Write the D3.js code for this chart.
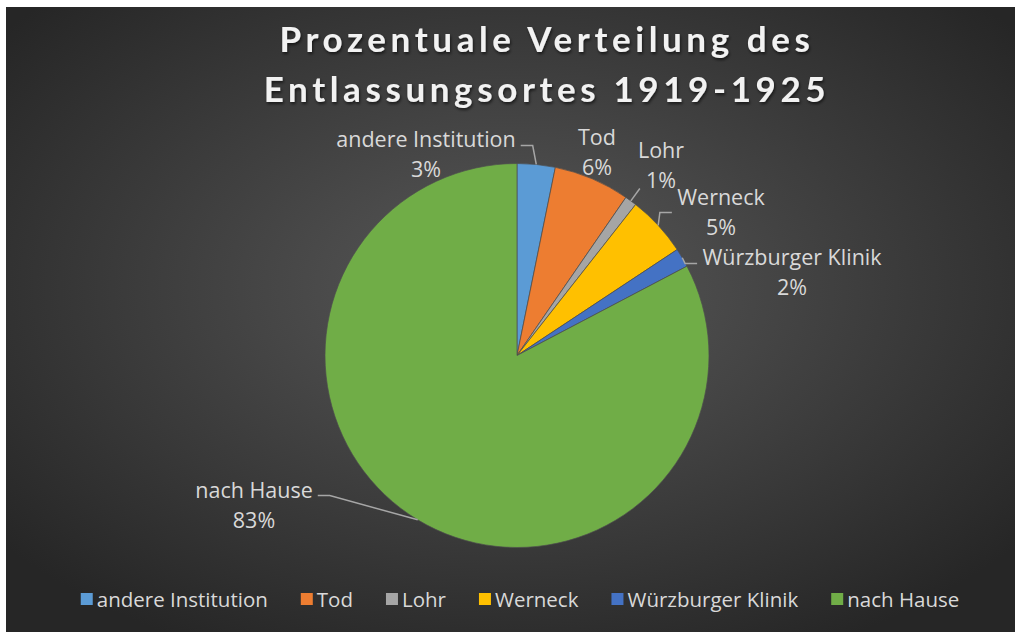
<!DOCTYPE html>
<html>
<head>
<meta charset="utf-8">
<script src="https://cdn.jsdelivr.net/npm/d3@7"></script>
<style>
  body { margin: 0; background: #fff; }
  svg { display: block; }
</style>
</head>
<body>
<div id="chart"></div>
<script>
// Data
var categories = ["andere Institution", "Tod", "Lohr", "Werneck", "Würzburger Klinik", "nach Hause"];
var shares = [3.2, 6.4, 1.0, 5.1, 1.6, 82.7];
var colors = ["#5b9bd5", "#ed7d31", "#a5a5a5", "#ffc000", "#4472c4", "#70ad47"];
var titleLines = ["Prozentuale Verteilung des", "Entlassungsortes 1919-1925"];

// Label placement (offset of the label block from the pie centre) and leader style
// mode: 0 = no leader, 1 = elbow, 2 = straight
var labelLayout = [
    { dx: -91, dy: -201, mode: 1, ay: -9 },
    { dx: 80, dy: -203, mode: 0, ay: 0 },
    { dx: 144, dy: -190, mode: 2, ay: 23 },
    { dx: 204, dy: -143, mode: 1, ay: 0 },
    { dx: 275, dy: -83, mode: 1, ay: -9 },
    { dx: -263, dy: 150, mode: 1, ay: -10 }
];

var width = 1015, height = 632;
var cx = 517, cy = 355.5, radius = 192;

var svg = d3.select("#chart")
    .append("svg")
    .attr("width", width)
    .attr("height", height);

var defs = svg.append("defs");
var bg = defs.append("radialGradient")
    .attr("id", "bg")
    .attr("cx", "50%").attr("cy", "45%").attr("r", "65%");
bg.append("stop").attr("offset", "0%").attr("stop-color", "#595959");
bg.append("stop").attr("offset", "100%").attr("stop-color", "#262626");

var shadow = defs.append("filter").attr("id", "shadow")
    .attr("x", "-5%").attr("y", "-20%").attr("width", "110%").attr("height", "140%");
shadow.append("feDropShadow")
    .attr("dx", 1).attr("dy", 2).attr("stdDeviation", 1.5)
    .attr("flood-color", "#000").attr("flood-opacity", 0.6);

// Chart area (the picture has a thin white margin top and left)
svg.append("rect")
    .attr("x", 6).attr("y", 7)
    .attr("width", width - 6).attr("height", height - 7)
    .attr("fill", "url(#bg)");

// Title
svg.append("g")
    .selectAll("text")
    .data(titleLines)
    .enter()
    .append("text")
    .attr("x", 547)
    .attr("y", function(d, i) { return 52 + i * 50 })
    .attr("text-anchor", "middle")
    .style("font-family", "Lato, 'Open Sans', sans-serif")
    .style("font-weight", "bold")
    .style("font-size", "35px")
    .style("letter-spacing", "4.6px")
    .style("fill", "#f2f2f2")
    .attr("filter", "url(#shadow)")
    .text(function(d) { return d });

// Pie
var data = categories.map(function(c, i) { return { name: c, value: shares[i], color: colors[i], layout: labelLayout[i] } });
var pie = d3.pie().sort(null).value(function(d) { return d.value });
var arc = d3.arc().innerRadius(0).outerRadius(radius);
var arcs = pie(data);

var g = svg.append("g").attr("transform", "translate(" + cx + "," + cy + ")");

g.selectAll("path.slice")
    .data(arcs)
    .enter()
    .append("path")
    .attr("class", "slice")
    .attr("d", arc)
    .attr("fill", function(d) { return d.data.color })
    .attr("stroke", "#4d4d4d")
    .attr("stroke-width", 0.7);

// Data labels
var labelFont = "'Open Sans', 'Noto Sans', sans-serif";
var labels = g.selectAll("g.label")
    .data(arcs)
    .enter()
    .append("g")
    .attr("class", "label")
    .attr("transform", function(d) { return "translate(" + d.data.layout.dx + "," + d.data.layout.dy + ")" });

labels.append("text")
    .attr("class", "name")
    .attr("y", -8)
    .attr("text-anchor", "middle")
    .style("font-family", labelFont)
    .style("font-size", "21.5px")
    .style("fill", "#d9d9d9")
    .text(function(d) { return d.data.name });

labels.append("text")
    .attr("y", 22)
    .attr("text-anchor", "middle")
    .style("font-family", labelFont)
    .style("font-size", "21.5px")
    .style("fill", "#d9d9d9")
    .text(function(d) { return Math.round(d.data.value) + "%" });

// Leader lines
labels.each(function(d) {
    var lay = d.data.layout;
    if (lay.mode === 0) return;
    var halfW = this.getBBox().width / 2;
    var mid = (d.startAngle + d.endAngle) / 2;
    var px = radius * Math.sin(mid), py = -radius * Math.cos(mid);
    var pts;
    if (lay.mode === 1) {
        var side = px > lay.dx ? 1 : -1;
        var ax = lay.dx + side * (halfW + 5);
        var ay = lay.dy + lay.ay;
        pts = [[ax, ay], [ax + side * 12, ay], [px, py]];
    } else {
        pts = [[lay.dx - halfW + 2, lay.dy + lay.ay], [px, py]];
    }
    g.append("path")
        .attr("d", d3.line()(pts))
        .attr("fill", "none")
        .attr("stroke", "#a6a6a6")
        .attr("stroke-width", 1.5);
});

// Legend
var legend = svg.append("g").attr("class", "legend");
var items = legend.selectAll("g")
    .data(data)
    .enter()
    .append("g");

items.append("rect")
    .attr("y", 593)
    .attr("width", 12)
    .attr("height", 12)
    .attr("fill", function(d) { return d.color });

items.append("text")
    .attr("x", 16)
    .attr("y", 607)
    .style("font-family", labelFont)
    .style("font-size", "20.5px")
    .style("fill", "#d9d9d9")
    .text(function(d) { return d.name });

var xpos = 0;
items.each(function() {
    var w = d3.select(this).select("text").node().getComputedTextLength();
    d3.select(this).attr("transform", "translate(" + xpos + ",0)");
    xpos += 16 + w + 33;
});
var total = xpos - 33;
legend.attr("transform", "translate(" + (520 - total / 2) + ",0)");
</script>
</body>
</html>
